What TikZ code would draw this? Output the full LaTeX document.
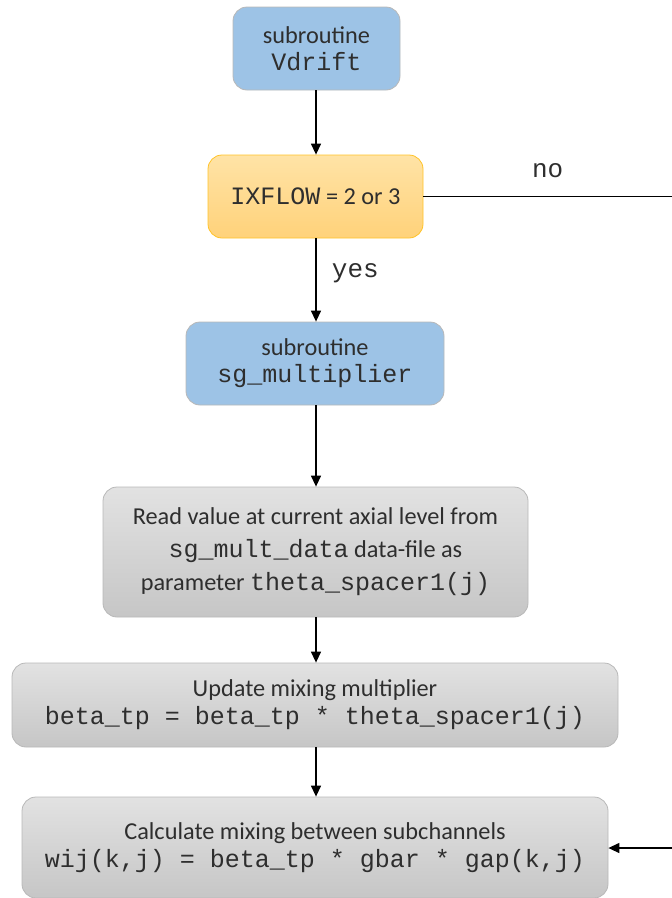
\documentclass[tikz,border=0pt]{standalone}
\usepackage{fontspec}
\setmainfont{Carlito}
\newfontfamily\monof{Liberation Mono}
\usetikzlibrary{arrows.meta,shadings}
\definecolor{boxblue}{HTML}{9DC3E6}
\definecolor{bordgray}{HTML}{B8B8B8}
\definecolor{orgtop}{HTML}{FFE3A6}
\definecolor{orgbot}{HTML}{FFD27A}
\definecolor{orgbord}{HTML}{FFC328}
\definecolor{graytop}{HTML}{E2E2E2}
\definecolor{graybot}{HTML}{C6C6C6}
\definecolor{txt}{HTML}{2E2E2E}
\newcommand{\sfz}{\fontsize{24.3}{28}\selectfont}
\newcommand{\mfz}{\monof\fontsize{25}{28}\selectfont}
\newcommand{\lfz}{\monof\fontsize{26}{28}\selectfont}
\tikzset{
  every node/.style={text=txt},
  boxbase/.style={rounded corners=14pt, inner sep=0pt, align=center, line width=0.8pt, font=\sfz},
  bluebox/.style={boxbase, draw=bordgray, fill=boxblue},
  orangebox/.style={boxbase, draw=orgbord, top color=orgtop, bottom color=orgbot},
  graybox/.style={boxbase, draw=bordgray, top color=graytop, bottom color=graybot},
  flow/.style={draw=black, line width=1.3pt, -{Triangle[length=11pt,width=10pt]}},
  plainline/.style={draw=black, line width=1.3pt},
  lbl/.style={font=\lfz, text=txt}
}
\begin{document}
\begin{tikzpicture}[x=1pt,y=-1pt]
\useasboundingbox (0,0) rectangle (672,898);
\node[bluebox, minimum width=167pt, minimum height=83pt] (v) at (316.5,48.5)
  {subroutine\\[-1pt]{\mfz Vdrift}};
\node[orangebox, minimum width=215pt, minimum height=83pt] (ix) at (315.5,196.5)
  {{\mfz IXFLOW} = 2 or 3};
\node[bluebox, minimum width=258pt, minimum height=83pt] (sg) at (315,363.5)
  {subroutine\\[-1pt]{\mfz sg\_multiplier}};
\node[graybox, minimum width=425pt, minimum height=130pt] (rd) at (315.5,552)
  {Read value at current axial level from\\[5pt]
   {\mfz sg\_mult\_data} data-file as\\[5pt]
   parameter {\mfz theta\_spacer1(j)}};
\node[graybox, minimum width=606pt, minimum height=84pt] (up) at (315,705)
  {Update mixing multiplier\\
   {\mfz beta\_tp = beta\_tp * theta\_spacer1(j)}};
\node[graybox, minimum width=586pt, minimum height=101pt] (ca) at (315,847.5)
  {Calculate mixing between subchannels\\
   {\mfz wij(k,j) = beta\_tp * gbar * gap(k,j)}};
\coordinate (noend) at (672,196.5);
\coordinate (backin) at (672,848);
\draw[flow] (v.south -| 316,0) -- (ix.north -| 316,0);
\draw[flow] (ix.south -| 316,0) -- node[lbl, right=12pt, pos=0.42] (yes) {yes} (sg.north -| 316,0);
\draw[flow] (sg.south -| 316,0) -- (rd.north -| 316,0);
\draw[flow] (rd.south -| 316,0) -- (up.north -| 316,0);
\draw[flow] (up.south -| 316,0) -- (ca.north -| 316,0);
\draw[plainline] (ix.east) -- node[lbl, above=15pt, pos=0.5] (no) {no} (noend);
\draw[flow] (backin) -- (ca.east |- backin);
\end{tikzpicture}
\end{document}
